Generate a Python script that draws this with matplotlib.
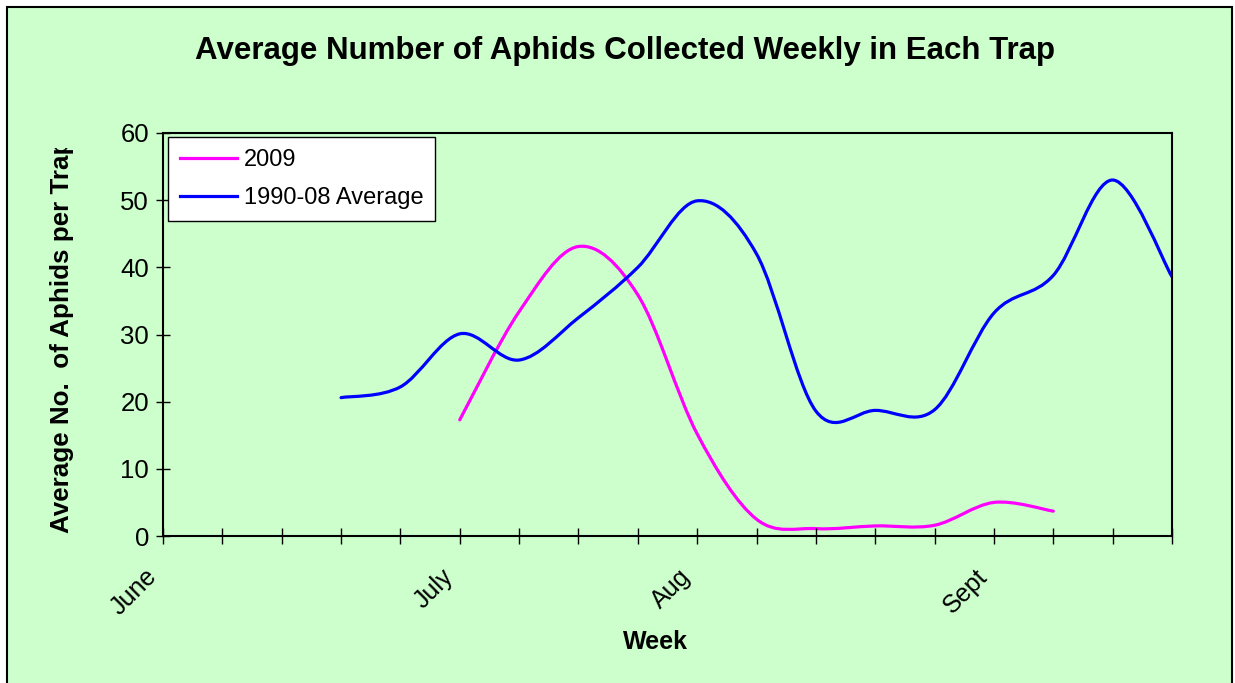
import matplotlib.pyplot as plt
from matplotlib.path import Path
from matplotlib.patches import PathPatch, Rectangle
from matplotlib.lines import Line2D
from matplotlib.transforms import Bbox, TransformedBbox, ScaledTranslation

# weekly categories (labels only on month starts)
weeks = ["June", "", "", "", "", "July", "", "", "", "Aug", "", "", "", "", "Sept", "", "", ""]
avg_9008 = [None, None, None, 20.6, 22.2, 30.1, 26.2, 32.5, 40.0, 49.9, 42.0, 18.6, 18.7, 18.8, 33.2, 38.8, 53.0, 38.6]
y2009 = [None, None, None, None, None, 17.3, 33.4, 43.1, 35.9, 15.2, 2.5, 1.1, 1.5, 1.6, 5.0, 3.7, None, None]

bg = "#CCFFCC"
W, H = 1235, 683


def smooth_path(vals):
    # excel-style smoothed line: bezier segments through the points
    pts = [(i, v) for i, v in enumerate(vals) if v is not None]
    verts = [pts[0]]
    codes = [Path.MOVETO]
    n = len(pts)
    for i in range(n - 1):
        p0 = pts[max(i - 1, 0)]
        p1 = pts[i]
        p2 = pts[i + 1]
        p3 = pts[min(i + 2, n - 1)]
        c1 = (p1[0] + (p2[0] - p0[0]) / 6, p1[1] + (p2[1] - p0[1]) / 6)
        c2 = (p2[0] - (p3[0] - p1[0]) / 6, p2[1] - (p3[1] - p1[1]) / 6)
        verts += [c1, c2, p2]
        codes += [Path.CURVE4] * 3
    return Path(verts, codes)


plt.rcParams['font.family'] = ['Liberation Sans', 'DejaVu Sans']
fig = plt.figure(figsize=(W / 100, H / 100), dpi=100, facecolor='white')

# chart area frame
frame = Rectangle((7 / W, -0.01), (1232 - 7) / W, (H - 7) / H + 0.01,
                  transform=fig.transFigure, facecolor=bg,
                  edgecolor='black', linewidth=1.5, zorder=-10)
fig.patches.append(frame)

ax = fig.add_axes([163 / W, (H - 536) / H, (1172 - 163) / W, (536 - 133) / H])
ax.set_facecolor(bg)

ax.add_patch(PathPatch(smooth_path(y2009), fill=False, edgecolor='#FF00FF',
                       linewidth=2.3, capstyle='round', joinstyle='round'))
ax.add_patch(PathPatch(smooth_path(avg_9008), fill=False, edgecolor='#0000FF',
                       linewidth=2.3, capstyle='round', joinstyle='round'))

ax.set_xlim(0, len(weeks) - 1)
ax.set_ylim(0, 60)
ax.set_yticks(range(0, 61, 10))
ax.set_xticks(range(len(weeks)))
ax.set_xticklabels([])
ax.tick_params(axis='y', direction='inout', length=10, width=1, pad=5, labelsize=18.5)
ax.tick_params(axis='x', direction='inout', length=11.5, width=1)
for s in ax.spines.values():
    s.set_linewidth(1.5)
    s.set_color('black')

off = ScaledTranslation(-0.10, -0.37, fig.dpi_scale_trans)
for i, lab in enumerate(weeks):
    if lab:
        ax.text(i, 0, lab, transform=ax.get_xaxis_transform() + off, rotation=45,
                rotation_mode='anchor', ha='right', va='center', fontsize=18)

handles = [Line2D([], [], color='#FF00FF', lw=2.3),
           Line2D([], [], color='#0000FF', lw=2.3)]
leg = ax.legend(handles, ['2009', '1990-08 Average'], loc='upper left',
                bbox_to_anchor=(0.005, 0.99), fontsize=17, frameon=True,
                fancybox=False, edgecolor='black', framealpha=1,
                handlelength=2.4, handletextpad=0.3, borderpad=0.5, labelspacing=0.7,
                borderaxespad=0)
leg.get_frame().set_linewidth(1)

fig.text(625 / W, (H - 51) / H, "Average Number of Aphids Collected Weekly in Each Trap",
         ha='center', va='center', fontsize=22.5, fontweight='bold')
fig.text(655 / W, (H - 642) / H, "Week", ha='center', va='center',
         fontsize=18, fontweight='bold')
yl = fig.text(62 / W, (H - 336) / H, "Average No.  of Aphids per Trap", rotation=90,
              ha='center', va='center', fontsize=18.7, fontweight='bold')
yl.set_clip_box(TransformedBbox(Bbox([[0, 0], [1, (H - 148) / H]]), fig.transFigure))
yl.set_clip_on(True)

fig.savefig("out.png", dpi=100, facecolor='white')
